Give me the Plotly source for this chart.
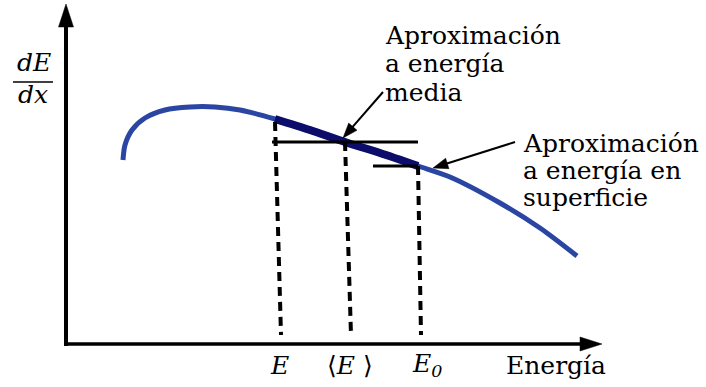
import math
import plotly.graph_objects as go

# Stopping-power curve dE/dx versus energy (arbitrary units)
energy = [57, 59, 66, 79, 99, 124, 149, 174, 209, 244, 279, 314, 352, 384, 434, 474, 511]
stopping = [184, 199, 214, 226, 234, 237, 237, 234, 225, 214, 202, 191, 178, 167, 141, 116, 88]

# Characteristic energies: E (exit), <E> (mean), E0 (surface)
E_exit = 209
E_mean = 279
E_surf = 352
tick_labels = ["<i>E</i>", "⟨<i>E</i> ⟩", "<i>E</i><sub><i>0</i></sub>"]

# Approximation values of dE/dx
S_mean = 202   # value at <E>
S_surf = 178   # value at E0

FONT = "DejaVu Serif"
BLUE = "#2a46a2"
NAVY = "#0c0c6a"

fig = go.Figure()

# main curve
fig.add_trace(go.Scatter(x=energy, y=stopping, mode="lines",
                         line=dict(color=BLUE, width=5, shape="spline", smoothing=0.8),
                         hoverinfo="skip", showlegend=False))

# highlighted stretch between E and E0
seg = [(e, s) for e, s in zip(energy, stopping) if E_exit <= e <= E_surf]
fig.add_trace(go.Scatter(x=[p[0] for p in seg], y=[p[1] for p in seg], mode="lines",
                         line=dict(color=NAVY, width=8, shape="spline", smoothing=0.8),
                         hoverinfo="skip", showlegend=False))

shapes = []

def seg_line(x0, y0, x1, y1, width, dash=None, color="black"):
    ln = dict(color=color, width=width)
    if dash:
        ln["dash"] = dash
    shapes.append(dict(type="line", xref="x", yref="y", x0=x0, y0=y0, x1=x1, y1=y1, line=ln,
                       layer="above"))

def head(tip, tail, length, half):
    dx, dy = tip[0] - tail[0], tip[1] - tail[1]
    n = math.hypot(dx, dy)
    ux, uy = dx / n, dy / n
    bx, by = tip[0] - ux * length, tip[1] - uy * length
    px, py = -uy * half, ux * half
    path = (f"M {tip[0]},{tip[1]} L {bx + px},{by + py} L {bx - px},{by - py} Z")
    shapes.append(dict(type="path", xref="x", yref="y", path=path,
                       fillcolor="black", line=dict(color="black", width=0.5), layer="above"))

def arrow(tail, tip, width=2, length=15, half=5.5):
    dx, dy = tip[0] - tail[0], tip[1] - tail[1]
    n = math.hypot(dx, dy)
    end = (tip[0] - dx / n * (length - 2), tip[1] - dy / n * (length - 2))
    seg_line(tail[0], tail[1], end[0], end[1], width)
    head(tip, tail, length, half)

# axes with arrowheads
seg_line(0, -2, 0, 320, 4)
head((0, 340), (0, 0), 23, 7.5)
seg_line(-2, 0, 516, 0, 3.5)
head((536, 0), (0, 0), 22, 7)

# dashed drops from the curve to the energy axis
LEAN = 6
for e, top in [(E_exit, 222), (E_mean, S_mean), (E_surf, S_surf)]:
    seg_line(e, top, e + LEAN * (1 if e != E_surf else 0.5), 9, 4, dash="9px,6px")

# mean-energy and surface-energy approximations
seg_line(E_exit - 3, S_mean, E_surf, S_mean, 3)
seg_line(E_surf - 45, S_surf, E_surf, S_surf, 3)

# pointer arrows
arrow((317, 252), (E_mean - 2, S_mean + 4))
arrow((449, 202), (E_surf + 15, S_surf - 2))

# fraction bar of dE/dx
seg_line(-53, 262, -13, 262, 1.5)

annotations = []

def text(x, y, s, size=25, xanchor="left"):
    annotations.append(dict(x=x, y=y, xref="x", yref="y", text=s, showarrow=False,
                            xanchor=xanchor, yanchor="middle",
                            font=dict(family=FONT, size=size, color="black")))

for i, line in enumerate(["Aproximación", "a energía", "media"]):
    text(317, 309 - 28.5 * i, line)
for i, line in enumerate(["Aproximación", "a energía en", "superficie"]):
    text(455, 201 - 27 * i, line)

text(-32, 282, "<i>dE</i>", xanchor="center")
text(-33, 250, "<i>dx</i>", xanchor="center")

for xpos, lab in zip([213, 284, 361], tick_labels):
    text(xpos, -21, lab, size=25, xanchor="center")
text(490, -21, "Energía", size=25, xanchor="center")

fig.update_layout(
    width=706, height=387, margin=dict(l=0, r=0, t=0, b=0),
    paper_bgcolor="white", plot_bgcolor="white",
    xaxis=dict(range=[-66, 640], visible=False, fixedrange=True),
    yaxis=dict(range=[-43, 344], visible=False, fixedrange=True),
    shapes=shapes, annotations=annotations, showlegend=False,
)

fig.write_html("out.html")
